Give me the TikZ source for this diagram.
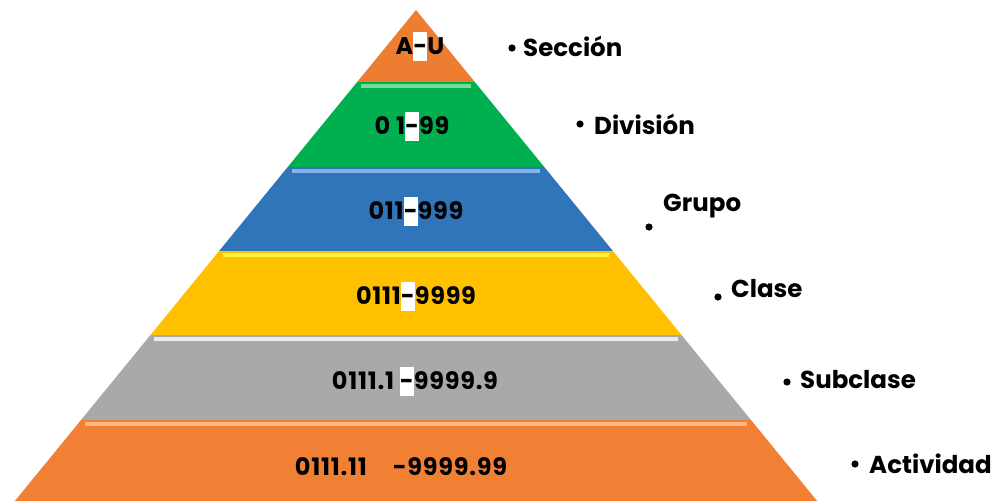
\documentclass[tikz,border=0pt]{standalone}
\usepackage{fontspec}
\setmainfont{Poppins}
\usetikzlibrary{positioning}
\definecolor{naranjaTop}{RGB}{237,125,49}
\definecolor{verde}{RGB}{0,176,80}
\definecolor{verdeLuz}{RGB}{120,220,150}
\definecolor{azul}{RGB}{48,117,186}
\definecolor{azulLuz}{RGB}{130,180,235}
\definecolor{amarillo}{RGB}{255,192,0}
\definecolor{amarilloLuz}{RGB}{255,240,70}
\definecolor{gris}{RGB}{169,169,169}
\definecolor{grisLuz}{RGB}{235,235,235}
\definecolor{naranja}{RGB}{242,128,52}
\definecolor{naranjaLuz}{RGB}{250,185,130}
\newcommand{\guion}{{\setlength{\fboxsep}{0pt}\colorbox{white}{\rule[-0.3em]{0pt}{1.2em}-}}}

\begin{document}
\begin{tikzpicture}[x=1pt, y=-1pt,
    codigo/.style={font=\bfseries\fontsize{24}{28}\selectfont\addfontfeature{LetterSpace=3}, inner sep=0pt, anchor=base},
    nivel/.style={font=\bfseries\fontsize{24.5}{28}\selectfont, inner sep=0pt, anchor=base west}]
    \useasboundingbox (0,0) rectangle (996,501);

    % vertice de la piramide
    \coordinate (cima) at (416,10);
    \fill[naranjaTop] (cima) -- ({416+0.817*72},82) -- ({416-0.817*72},82) -- cycle;

    % franjas
    \foreach \ya/\yb/\col/\luz in {82/167/verde/verdeLuz, 167/251/azul/azulLuz,
        251/335/amarillo/amarilloLuz, 335/420/gris/grisLuz, 420/501/naranja/naranjaLuz}{
        \fill[\col] ({416-0.817*(\ya-10)},\ya) -- ({416+0.817*(\ya-10)},\ya)
            -- ({416+0.817*(\yb-10)},\yb) -- ({416-0.817*(\yb-10)},\yb) -- cycle;
        \fill[\luz] ({416-0.817*(\ya-10)+4},{\ya+1.5}) rectangle ({416+0.817*(\ya-10)-4},{\ya+5.5});
    }

    % codigos
    \node[codigo] (codSec) at (420,54) {A\guion U};
    \node[codigo] (codDiv) at (412,134) {0 1\guion 99};
    \node[codigo] (codGru) at (416,219) {011\guion 999};
    \node[codigo] (codCla) at (416,304) {0111\guion 9999};
    \node[codigo] (codSub) at (415,389) {0111.1 \guion 9999.9};
    \node[codigo] (codAct) at (401,475) {0111.11\hspace{26pt}-9999.99};

    % niveles
    \coordinate (pSec) at (512,48);
    \coordinate (pDiv) at (580,124);
    \coordinate (pGru) at (649,227);
    \coordinate (pCla) at (718,297);
    \coordinate (pSub) at (787,382);
    \coordinate (pAct) at (855,464);
    \foreach \p in {pSec,pDiv,pGru,pCla,pSub,pAct}
        \fill (\p) circle (3.6pt);
    \node[nivel] (sec) at (523,56) {Sección};
    \node[nivel] (div) at (594,134) {División};
    \node[nivel] (gru) at (663,211) {Grupo};
    \node[nivel] (cla) at (731,297) {Clase};
    \node[nivel] (sub) at (800,388) {Subclase};
    \node[nivel] (act) at (869,473) {Actividad};
\end{tikzpicture}
\end{document}
